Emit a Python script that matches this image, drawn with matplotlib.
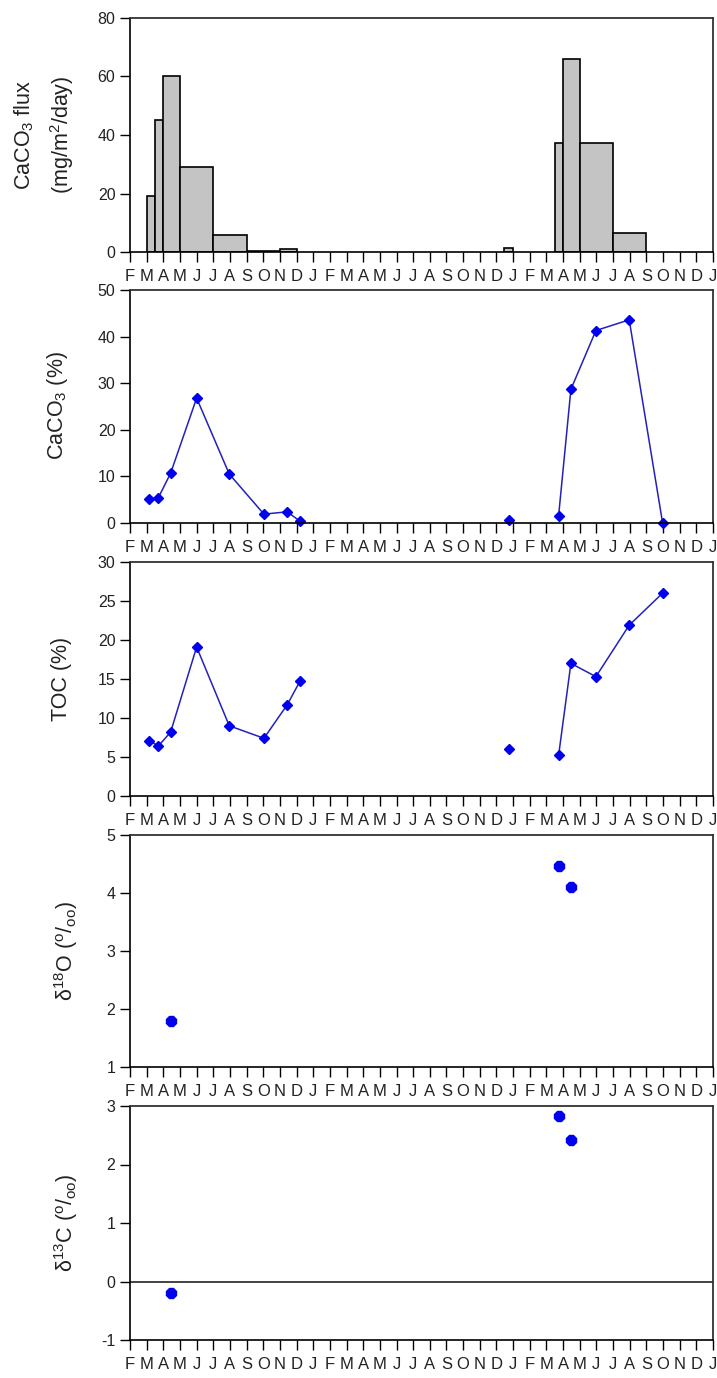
import matplotlib
matplotlib.use('Agg')
import matplotlib.pyplot as plt
import numpy as np

plt.rcParams['font.family'] = ['Liberation Sans', 'DejaVu Sans']
plt.rcParams['mathtext.fontset'] = 'custom'
plt.rcParams['mathtext.rm'] = 'Liberation Sans'
plt.rcParams['mathtext.it'] = 'Liberation Sans'
plt.rcParams['axes.unicode_minus'] = False

# month ticks, Feb year 1 .. Jan year 4 (index 0..35)
months = ['F', 'M', 'A', 'M', 'J', 'J', 'A', 'S', 'O', 'N', 'D', 'J',
          'F', 'M', 'A', 'M', 'J', 'J', 'A', 'S', 'O', 'N', 'D', 'J',
          'F', 'M', 'A', 'M', 'J', 'J', 'A', 'S', 'O', 'N', 'D', 'J']

# sediment trap intervals (month index) and CaCO3 flux
flux_start = [1.0, 1.5, 2.0, 3.0, 5.0, 7.0, 9.0, 22.45, 25.5, 26.0, 27.0, 29.0]
flux_end = [1.5, 2.0, 3.0, 5.0, 7.0, 9.0, 10.0, 23.0, 26.0, 27.0, 29.0, 31.0]
flux = [19, 45, 60, 29, 5.8, 0.4, 1.1, 1.2, 37.4, 66, 37.4, 6.4]

# sample mid-times
t_first = [1.16, 1.70, 2.44, 4.0, 5.96, 8.04, 9.44, 10.2]
t_single = [22.75]
t_second = [25.73, 26.47, 27.97, 29.97, 31.97]

caco3_first = [5.1, 5.4, 10.7, 26.8, 10.5, 1.9, 2.4, 0.4]
caco3_single = [0.6]
caco3_second = [1.5, 28.7, 41.3, 43.6, 0.1]

toc_first = [7.1, 6.4, 8.2, 19.1, 9.0, 7.4, 11.7, 14.7]
toc_single = [6.0]
toc_second = [5.2, 17.0, 15.3, 21.9, 26.0]

t_iso = [2.44, 25.73, 26.5]
d18o = [1.80, 4.47, 4.10]
d13c = [-0.20, 2.83, 2.42]

W, H = 717, 1378
fig = plt.figure(figsize=(W / 100, H / 100), dpi=100)

left, right = 130, 713
panels = [(18, 252), (290, 523), (562, 796), (835, 1067), (1106, 1340)]
axes = []
for top, bottom in panels:
    ax = fig.add_axes([left / W, 1 - bottom / H, (right - left) / W, (bottom - top) / H])
    axes.append(ax)

line_c = '#2222bb'
mark_c = '#0000ee'
text_c = '#222222'

for ax in axes:
    ax.set_xlim(0, 35)
    ax.set_xticks(np.arange(len(months)))
    ax.set_xticklabels(months)
    ax.tick_params(axis='both', direction='out', length=7, width=1,
                   labelsize=11.5, labelcolor=text_c)
    ax.tick_params(axis='x', pad=5, labelsize=12)
    for s in ['left', 'bottom']:
        ax.spines[s].set_linewidth(1.2)
        ax.spines[s].set_color('black')
    for s in ['top', 'right']:
        ax.spines[s].set_linewidth(1.3)
        ax.spines[s].set_color('#333333')

# panel 1: CaCO3 flux bars
ax = axes[0]
widths = [e - s for s, e in zip(flux_start, flux_end)]
ax.bar(flux_start, flux, width=widths, align='edge', color='#c4c4c4',
       edgecolor='black', linewidth=1.2)
ax.set_ylim(0, 80)
ax.set_yticks(range(0, 81, 20))

# panel 2: CaCO3 %
ax = axes[1]
ax.plot(t_first, caco3_first, '-', color=line_c, lw=1.1)
ax.plot(t_second, caco3_second, '-', color=line_c, lw=1.1)
for t, v in [(t_first, caco3_first), (t_single, caco3_single), (t_second, caco3_second)]:
    ax.plot(t, v, 'D', color=mark_c, ms=5, ls='none', clip_on=False)
ax.set_ylim(0, 50)
ax.set_yticks(range(0, 51, 10))

# panel 3: TOC
ax = axes[2]
ax.plot(t_first, toc_first, '-', color=line_c, lw=1.1)
ax.plot(t_second, toc_second, '-', color=line_c, lw=1.1)
for t, v in [(t_first, toc_first), (t_single, toc_single), (t_second, toc_second)]:
    ax.plot(t, v, 'D', color=mark_c, ms=5, ls='none')
ax.set_ylim(0, 30)
ax.set_yticks(range(0, 31, 5))

# panel 4: d18O
ax = axes[3]
ax.plot(t_iso, d18o, '8', color=mark_c, ms=7.5, ls='none')
ax.set_ylim(1, 5)
ax.set_yticks(range(1, 6))

# panel 5: d13C
ax = axes[4]
ax.axhline(0, color='#222222', lw=1.2)
ax.plot(t_iso, d13c, '8', color=mark_c, ms=7.5, ls='none')
ax.set_ylim(-1, 3)
ax.set_yticks(range(-1, 4))

lab_fs = 15.5
kw = dict(rotation=90, ha='center', va='center', fontsize=lab_fs, color=text_c)
fig.text(24 / W, 1 - 135 / H, r'CaCO$_3$ flux', **kw)
fig.text(62 / W, 1 - 135 / H, r'(mg/m$^2$/day)', **kw)
fig.text(57 / W, 1 - 406 / H, r'CaCO$_3$ (%)', **kw)
fig.text(61 / W, 1 - 679 / H, 'TOC (%)', **kw)
fig.text(66 / W, 1 - 951 / H, r'δ$^{18}$O ($^{o}$/$_{oo}$)', **kw)
fig.text(66 / W, 1 - 1223 / H, r'δ$^{13}$C ($^{o}$/$_{oo}$)', **kw)

fig.savefig('out.png', dpi=100)
plt.close(fig)
